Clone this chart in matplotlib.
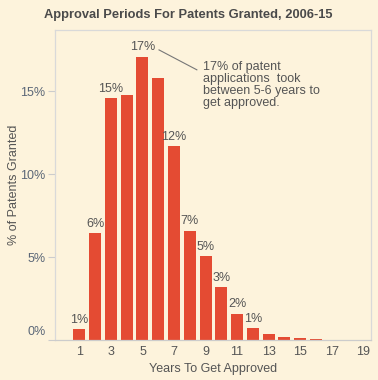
import matplotlib.pyplot as plt
from matplotlib.transforms import ScaledTranslation

plt.rcParams["font.family"] = ["Liberation Sans", "DejaVu Sans"]

# data
years = list(range(1, 20))
pct = [0.66, 6.45, 14.6, 14.8, 17.1, 15.8, 11.7, 6.6, 5.05, 3.2,
       1.6, 0.7, 0.35, 0.18, 0.1, 0.08, 0.02, 0.0, 0.0]
bar_labels = ["1%", "6%", "15%", "", "17%", "", "12%", "7%", "5%", "3%",
              "2%", "1%", "", "", "", "", "", "", ""]
xticks = [1, 3, 5, 7, 9, 11, 13, 15, 17, 19]
yticks = [0, 5, 10, 15]

bg = "#fdf3dc"
red = "#e44b33"
txt = "#555555"
fs = 9

fig = plt.figure(figsize=(3.78, 3.80), dpi=100, facecolor=bg)
ax = fig.add_axes([0.1455, 0.105, 0.836, 0.816], facecolor=bg)

bars = ax.bar(years, pct, width=0.76, color=red, zorder=2)
for b, lab in zip(bars, bar_labels):
    if lab:
        ax.text(b.get_x() + b.get_width() / 2, b.get_height() + 0.2, lab,
                ha="center", va="bottom", fontsize=fs, color=txt)

ax.set_xlim(-0.55, 19.5)
ax.set_ylim(0, 18.7)
ax.set_xticks(xticks)
ax.set_yticks(yticks)
ax.set_yticklabels([f"{v}%" for v in yticks])
ax.tick_params(axis="x", length=0, pad=4, labelsize=fs, labelcolor=txt)
ax.tick_params(axis="y", length=5, width=0.8, color="#cccccc", pad=2,
               labelsize=fs, labelcolor="#5a6677")
# the 0% label sits a little above the baseline
lab0 = ax.get_yticklabels()[0]
lab0.set_transform(lab0.get_transform() + ScaledTranslation(0, 7 / 72, fig.dpi_scale_trans))

for s in ["left", "top", "right"]:
    ax.spines[s].set_color("#d9d9d9")
    ax.spines[s].set_linewidth(0.9)
ax.spines["bottom"].set_color("#cccccc")
ax.spines["bottom"].set_linewidth(0.9)

ax.set_xlabel("Years To Get Approved", fontsize=fs, color=txt, labelpad=4)
ax.set_ylabel("% of Patents Granted", fontsize=fs, color=txt)
ax.yaxis.set_label_coords(-0.11, 0.5)
fig.text(0.497, 0.96, "Approval Periods For Patents Granted, 2006-15",
         ha="center", va="center", fontsize=9.3, fontweight="bold", color="#4a4a4a")

# annotation
ax.plot([6.05, 8.45], [17.5, 16.3], color="#777777", lw=0.8)
ax.text(8.85, 16.85, "17% of patent\napplications  took\nbetween 5-6 years to\nget approved.",
        ha="left", va="top", fontsize=fs, color=txt, linespacing=1.02)

fig.savefig("out.png", dpi=100, facecolor=bg)
